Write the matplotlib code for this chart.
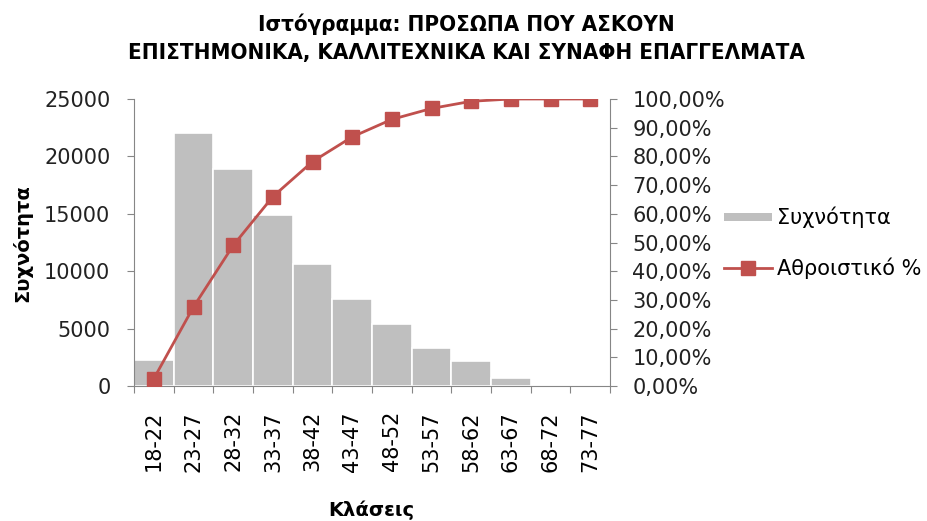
import numpy as np
import matplotlib.pyplot as plt
from matplotlib.ticker import FuncFormatter
from matplotlib.legend_handler import HandlerPatch
from matplotlib.patches import Rectangle

classes = ['18-22', '23-27', '28-32', '33-37', '38-42', '43-47',
           '48-52', '53-57', '58-62', '63-67', '68-72', '73-77']
freq = [2260, 22000, 18870, 14870, 10630, 7610, 5370, 3280, 2150, 700, 0, 0]
cum_pct = [2.6, 27.6, 49.0, 66.0, 78.2, 86.8, 92.9, 96.7, 99.2, 100.0, 100.0, 100.0]

axis_col = '#868686'
plt.rcParams['font.family'] = ['DejaVu Sans']


def thin_patch(legend, orig_handle, xdescent, ydescent, width, height, fontsize):
    # flat grey box like the excel legend key
    h = height * 0.55
    return Rectangle((-xdescent, -ydescent + (height - h) / 2), width, h)


def from_first_bar(handle, orig):
    handle.update_from(orig.patches[0])
    handle.set_edgecolor('none')


fig = plt.figure(figsize=(9.27, 5.21), dpi=100)
ax = fig.add_axes([0.1446, 0.259, 0.5135, 0.551])
x = np.arange(len(classes))
bars = ax.bar(x, freq, width=1.0, color='#BFBFBF', edgecolor='white', linewidth=1.2,
              label='Συχνότητα', zorder=2)
ax.set_xlim(-0.5, len(classes) - 0.5)
ax.set_ylim(0, 25000)
ax.set_yticks(np.arange(0, 25001, 5000))

# ticks at class boundaries, labels at centres
ax.set_xticks(np.arange(-0.5, len(classes), 1.0))
ax.set_xticklabels([])
ax.set_xticks(x, minor=True)
ax.set_xticklabels(classes, minor=True, rotation=90, fontsize=15, va='top')
ax.tick_params(axis='x', which='major', direction='out', length=5, color=axis_col)
ax.tick_params(axis='x', which='minor', length=0, pad=18)
ax.tick_params(axis='y', direction='out', length=5, color=axis_col, labelsize=15,
               pad=12, labelcolor='#222222')
ax.tick_params(axis='x', labelcolor='#222222')

for s in ['top', 'right']:
    ax.spines[s].set_visible(False)
for s in ['left', 'bottom']:
    ax.spines[s].set_color(axis_col)

ax2 = ax.twinx()
ax2.plot(x, np.array(cum_pct) / 100, color='#C0504D', linewidth=2, marker='s',
         markersize=9.5, label='Αθροιστικό %', zorder=3)
ax2.set_ylim(0, 1)
ax2.set_yticks(np.arange(0, 1.001, 0.1))
ax2.yaxis.set_major_formatter(FuncFormatter(lambda v, p: f'{v*100:.2f}%'.replace('.', ',')))
ax2.tick_params(axis='y', direction='out', length=5, color=axis_col, labelsize=15,
                pad=11, labelcolor='#222222')
for s in ['top', 'left', 'bottom']:
    ax2.spines[s].set_visible(False)
ax2.spines['right'].set_color(axis_col)

fig.text(0.503, 0.975, 'Ιστόγραμμα: ΠΡΟΣΩΠΑ ΠΟΥ ΑΣΚΟΥΝ\nΕΠΙΣΤΗΜΟΝΙΚΑ, ΚΑΛΛΙΤΕΧΝΙΚΑ ΚΑΙ ΣΥΝΑΦΗ ΕΠΑΓΓΕΛΜΑΤΑ',
         ha='center', va='top', fontsize=16, fontweight='bold',
         fontstretch='condensed', linespacing=1.5)
fig.text(0.024, 0.534, 'Συχνότητα', rotation=90, ha='center', va='center',
         fontsize=14, fontweight='bold')
fig.text(0.401, 0.021, 'Κλάσεις', ha='center', va='center', fontsize=14,
         fontweight='bold')

h2, l2 = ax2.get_legend_handles_labels()
fig.legend([bars] + h2, ['Συχνότητα'] + l2, loc='center left',
           bbox_to_anchor=(0.781, 0.534),
           frameon=False, fontsize=15, handlelength=2.3, handletextpad=0.25,
           labelspacing=1.4, borderaxespad=0, borderpad=0,
           handler_map={type(bars): HandlerPatch(patch_func=thin_patch,
                                                 update_func=from_first_bar)})

fig.savefig('out.png', dpi=100)
